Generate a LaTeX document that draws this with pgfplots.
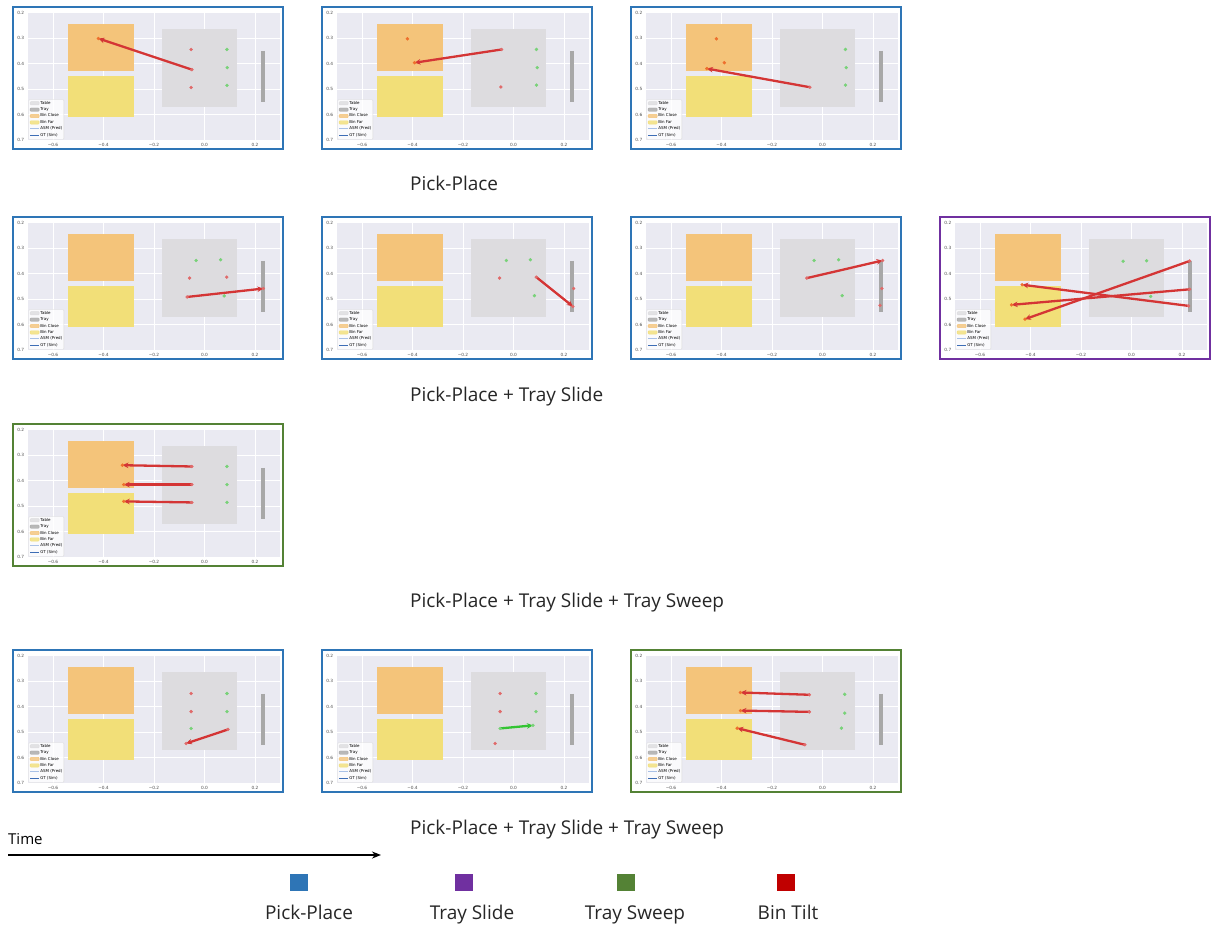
\documentclass[border=0pt]{standalone}
\usepackage{fontspec}
\setmainfont{Open Sans}
\newfontfamily\dejavu{DejaVu Sans}
\usepackage{pgfplots}
\pgfplotsset{compat=1.18}
\usetikzlibrary{arrows.meta}

\definecolor{axbg}{HTML}{EAEAF2}
\definecolor{tablegray}{HTML}{DDDCDF}
\definecolor{traygray}{HTML}{A8A8A8}
\definecolor{binclose}{HTML}{F4C47A}
\definecolor{binfar}{HTML}{F2DF78}
\definecolor{asmblue}{HTML}{A9C1E6}
\definecolor{gtblue}{HTML}{3D6DB5}
\definecolor{arrred}{HTML}{D43535}
\definecolor{reddot}{HTML}{E06A6A}
\definecolor{greendot}{HTML}{78D278}
\definecolor{orangedot}{HTML}{EE6F2D}
\definecolor{arrgreen}{HTML}{33C433}
\definecolor{fblue}{HTML}{2E75B6}
\definecolor{fpurple}{HTML}{7030A0}
\definecolor{fgreen}{HTML}{548235}
\definecolor{fred}{HTML}{C00000}

\newcommand\tickfont{\dejavu\fontsize{4.3bp}{5bp}\selectfont}
\newcommand\legfont{\dejavu\fontsize{4bp}{4.6bp}\selectfont}

\pgfplotsset{
  panel/.style={
    scale only axis, width=252.5bp, height=127.5bp, anchor=north west,
    xmin=-0.7, xmax=0.3, ymin=0.2, ymax=0.7, y dir=reverse,
    axis background/.style={fill=axbg},
    axis line style={draw=none},
    xmajorgrids, ymajorgrids, major grid style={white, line width=0.9bp},
    major tick length=0pt,
    xtick={-0.6,-0.4,-0.2,0,0.2}, xticklabels={−0.6,−0.4,−0.2,0.0,0.2},
    ytick={0.2,0.3,0.4,0.5,0.6,0.7}, yticklabels={0.2,0.3,0.4,0.5,0.6,0.7},
    ticklabel style={font=\tickfont, text=black!70},
    legend style={at={(0.003,0.004)}, anchor=south west, font=\legfont,
      fill=white, fill opacity=0.8, text opacity=1, draw=black!15,
      rounded corners=0.8bp, inner sep=0.9bp, row sep=0.7bp,
      nodes={inner sep=0.6bp}},
    legend cell align=left,
  },
  patchleg/.style={legend image code/.code={\fill[#1] (0bp,-1.4bp) rectangle (9bp,1.9bp);}},
  lineleg/.style={legend image code/.code={\draw[#1, line width=1.1bp] (0bp,0.3bp) -- (9bp,0.3bp);}},
  arr/.style={color=arrred, line width=2.3bp, -{Stealth[length=6bp,width=5.5bp]}, forget plot},
  garr/.style={color=arrgreen, line width=2.3bp, -{Stealth[length=6bp,width=5.5bp]}, forget plot},
  rdot/.style={only marks, mark=*, mark size=1.5bp, color=reddot, forget plot},
  gdot/.style={only marks, mark=*, mark size=1.5bp, color=greendot, forget plot},
  odot/.style={only marks, mark=*, mark size=1.5bp, color=orangedot, forget plot},
}

\newcommand\panelbg{%
  \addplot[fill=tablegray, draw=none, forget plot] coordinates {(-0.17,0.265) (0.13,0.265) (0.13,0.57) (-0.17,0.57)};
  \addplot[fill=binclose, draw=none, forget plot] coordinates {(-0.54,0.245) (-0.28,0.245) (-0.28,0.43) (-0.54,0.43)};
  \addplot[fill=binfar, draw=none, forget plot] coordinates {(-0.54,0.45) (-0.28,0.45) (-0.28,0.61) (-0.54,0.61)};
  \addplot[traygray, line width=3.2bp, forget plot] coordinates {(0.232,0.35) (0.232,0.55)};
  \addlegendimage{patchleg=tablegray}\addlegendentry{Table}
  \addlegendimage{patchleg=traygray}\addlegendentry{Tray}
  \addlegendimage{patchleg=binclose}\addlegendentry{Bin Close}
  \addlegendimage{patchleg=binfar}\addlegendentry{Bin Far}
  \addlegendimage{lineleg=asmblue}\addlegendentry{ASM (Pred)}
  \addlegendimage{lineleg=gtblue}\addlegendentry{GT (Sim)}
}

\newcommand\pframe[2]{%
  \draw[#2, line width=1.3bp] ([xshift=-14.75bp,yshift=5.5bp]#1.north west) rectangle ([xshift=2.75bp,yshift=-9bp]#1.south east);
}

\begin{document}
\begin{tikzpicture}
\useasboundingbox (0bp,0bp) rectangle (1211bp,-926bp);

% ---------- Row 1 ----------
\begin{axis}[panel, at={(27.75bp,-12.5bp)}, name=p1]
\panelbg
\addplot[gdot] coordinates {(0.089,0.345) (0.090,0.416) (0.089,0.486)};
\addplot[rdot] coordinates {(-0.053,0.345) (-0.053,0.494) (-0.05,0.424)};
\addplot[odot] coordinates {(-0.42,0.302)};
\addplot[arr] coordinates {(-0.05,0.424) (-0.42,0.302)};
\end{axis}
\pframe{p1}{fblue}

\begin{axis}[panel, at={(336.75bp,-12.5bp)}, name=p2]
\panelbg
\addplot[gdot] coordinates {(0.091,0.345) (0.094,0.416) (0.091,0.485)};
\addplot[rdot] coordinates {(-0.05,0.492) (-0.047,0.345)};
\addplot[odot] coordinates {(-0.42,0.303) (-0.392,0.397)};
\addplot[arr] coordinates {(-0.047,0.345) (-0.392,0.397)};
\end{axis}
\pframe{p2}{fblue}

\begin{axis}[panel, at={(645.75bp,-12.5bp)}, name=p3]
\panelbg
\addplot[gdot] coordinates {(0.091,0.345) (0.094,0.416) (0.091,0.485)};
\addplot[rdot] coordinates {(-0.05,0.493)};
\addplot[odot] coordinates {(-0.42,0.303) (-0.389,0.397) (-0.458,0.42)};
\addplot[arr] coordinates {(-0.05,0.493) (-0.458,0.42)};
\end{axis}
\pframe{p3}{fblue}

% ---------- Row 2 ----------
\begin{axis}[panel, at={(27.75bp,-222.5bp)}, name=p4]
\panelbg
\addplot[gdot] coordinates {(-0.033,0.349) (0.064,0.346) (0.078,0.488)};
\addplot[rdot] coordinates {(-0.059,0.418) (0.088,0.414) (-0.069,0.492) (0.233,0.459)};
\addplot[arr] coordinates {(-0.069,0.492) (0.233,0.459)};
\end{axis}
\pframe{p4}{fblue}

\begin{axis}[panel, at={(336.75bp,-222.5bp)}, name=p5]
\panelbg
\addplot[gdot] coordinates {(-0.028,0.349) (0.067,0.346) (0.083,0.487)};
\addplot[rdot] coordinates {(-0.055,0.418) (0.238,0.459) (0.09,0.414) (0.235,0.529)};
\addplot[arr] coordinates {(0.09,0.414) (0.235,0.529)};
\end{axis}
\pframe{p5}{fblue}

\begin{axis}[panel, at={(645.75bp,-222.5bp)}, name=p6]
\panelbg
\addplot[gdot] coordinates {(-0.033,0.349) (0.064,0.346) (0.078,0.487)};
\addplot[rdot] coordinates {(0.235,0.459) (0.228,0.525) (-0.062,0.418) (0.238,0.349)};
\addplot[arr] coordinates {(-0.062,0.418) (0.238,0.349)};
\end{axis}
\pframe{p6}{fblue}

\begin{axis}[panel, at={(954.75bp,-222.5bp)}, name=p7]
\panelbg
\addplot[gdot] coordinates {(-0.033,0.352) (0.06,0.35) (0.076,0.49)};
\addplot[rdot] coordinates {(0.23,0.351) (0.23,0.462) (0.226,0.527)};
\addplot[odot] coordinates {(-0.422,0.579) (-0.475,0.523) (-0.433,0.444)};
\addplot[arr] coordinates {(0.23,0.351) (-0.422,0.579)};
\addplot[arr] coordinates {(0.23,0.462) (-0.475,0.523)};
\addplot[arr] coordinates {(0.226,0.527) (-0.433,0.444)};
\end{axis}
\pframe{p7}{fpurple}

% ---------- Row 3 ----------
\begin{axis}[panel, at={(27.75bp,-429.5bp)}, name=p8]
\panelbg
\addplot[gdot] coordinates {(0.089,0.345) (0.089,0.416) (0.089,0.486)};
\addplot[rdot] coordinates {(-0.05,0.345) (-0.05,0.416) (-0.05,0.486)};
\addplot[odot] coordinates {(-0.325,0.34) (-0.32,0.416) (-0.32,0.482)};
\addplot[arr] coordinates {(-0.05,0.345) (-0.325,0.34)};
\addplot[arr] coordinates {(-0.05,0.416) (-0.32,0.416)};
\addplot[arr] coordinates {(-0.05,0.486) (-0.32,0.482)};
\end{axis}
\pframe{p8}{fgreen}

% ---------- Row 4 ----------
\begin{axis}[panel, at={(27.75bp,-655.5bp)}, name=p9]
\panelbg
\addplot[gdot] coordinates {(0.089,0.349) (0.089,0.42) (-0.053,0.486)};
\addplot[rdot] coordinates {(-0.053,0.349) (-0.053,0.42) (0.093,0.49) (-0.073,0.545)};
\addplot[arr] coordinates {(0.093,0.49) (-0.073,0.545)};
\end{axis}
\pframe{p9}{fblue}

\begin{axis}[panel, at={(336.75bp,-655.5bp)}, name=p10]
\panelbg
\addplot[gdot] coordinates {(0.089,0.349) (0.089,0.42) (-0.053,0.486) (0.077,0.474)};
\addplot[rdot] coordinates {(-0.053,0.349) (-0.053,0.42) (-0.073,0.545)};
\addplot[garr] coordinates {(-0.053,0.486) (0.077,0.474)};
\end{axis}
\pframe{p10}{fblue}

\begin{axis}[panel, at={(645.75bp,-655.5bp)}, name=p11]
\panelbg
\addplot[gdot] coordinates {(0.088,0.352) (0.088,0.426) (0.075,0.485)};
\addplot[rdot] coordinates {(-0.052,0.354) (-0.052,0.421) (-0.07,0.55)};
\addplot[odot] coordinates {(-0.325,0.345) (-0.325,0.416) (-0.338,0.485)};
\addplot[arr] coordinates {(-0.052,0.354) (-0.325,0.345)};
\addplot[arr] coordinates {(-0.052,0.421) (-0.325,0.416)};
\addplot[arr] coordinates {(-0.07,0.55) (-0.338,0.485)};
\end{axis}
\pframe{p11}{fgreen}

% ---------- Captions ----------
\begin{scope}[every node/.style={anchor=base west, inner sep=0, font=\fontsize{19bp}{22bp}\selectfont, text=black!85}]
\node at (410bp,-190bp) {Pick-Place};
\node at (410bp,-401bp) {Pick-Place + Tray Slide};
\node at (410bp,-607bp) {Pick-Place + Tray Slide + Tray Sweep};
\node at (410bp,-834bp) {Pick-Place + Tray Slide + Tray Sweep};
\end{scope}

% ---------- Time arrow ----------
\node[anchor=base west, inner sep=0, font=\fontsize{15bp}{18bp}\selectfont] at (8bp,-844.5bp) {Time};
\draw[line width=1.6bp, -{Stealth[length=9bp,width=7bp]}] (8bp,-855bp) -- (381bp,-855bp);

% ---------- Colour legend ----------
\begin{scope}[every node/.style={anchor=base, inner sep=0, font=\fontsize{19bp}{22bp}\selectfont, text=black!85}]
\fill[fblue]   (290bp,-874bp) rectangle (308bp,-891bp);
\fill[fpurple] (455bp,-874bp) rectangle (473bp,-891bp);
\fill[fgreen]  (617bp,-874bp) rectangle (635bp,-891bp);
\fill[fred]    (777bp,-874bp) rectangle (795bp,-891bp);
\node at (309bp,-919.5bp) {Pick-Place};
\node at (472bp,-919.5bp) {Tray Slide};
\node at (635bp,-919.5bp) {Tray Sweep};
\node at (788bp,-919.5bp) {Bin Tilt};
\end{scope}
\end{tikzpicture}
\end{document}
